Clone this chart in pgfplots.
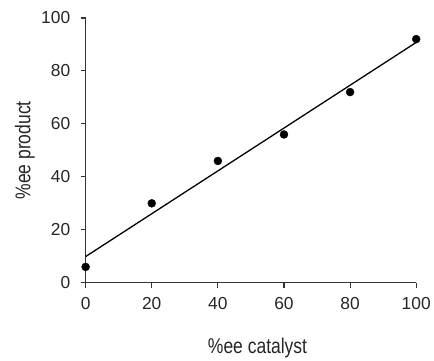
\documentclass[border=0pt]{standalone}
\usepackage{fontspec}
\setmainfont{Liberation Sans}
\newfontfamily\narrowfont[FakeStretch=0.82]{Liberation Sans}
\usepackage{pgfplots}
\pgfplotsset{compat=1.18}
\begin{document}
\begin{tikzpicture}
\begin{axis}[
  scale only axis,
  width=332bp, height=266bp,
  xmin=0, xmax=100, ymin=0, ymax=100,
  axis lines=left,
  axis line style={line width=1.2pt, color=black!80, -},
  xtick={0,20,...,100}, ytick={0,20,...,100},
  tick align=outside,
  major tick length=5bp,
  tick style={line width=1.2pt, color=black!80},
  /pgf/number format/assume math mode=true,
  ticklabel style={font=\fontsize{17.5}{20}\selectfont, color=black!85},
  xticklabel style={yshift=-6bp},
  yticklabel style={xshift=-7bp},
  xlabel={\%ee catalyst},
  ylabel={\%ee product},
  label style={font=\narrowfont\fontsize{21.5}{25}\selectfont, color=black!85},
  xlabel style={at={(axis description cs:0.52,-0.245)}, anchor=center},
  ylabel style={at={(axis description cs:-0.184,0.5)}, anchor=center},
  clip=false,
]
\addplot[only marks, mark=*, mark size=4bp, black] coordinates {
  (0,6) (20,30) (40,46) (60,56) (80,72) (100,92)
};
\addplot[line width=1.3pt, black, no marks] coordinates {
  (0,9.9) (100,90.76)
};
\end{axis}
\path ([shift={(-86bp,-71bp)}]current axis.south west) rectangle ([shift={(348bp,284bp)}]current axis.south west);
\end{tikzpicture}
\end{document}
